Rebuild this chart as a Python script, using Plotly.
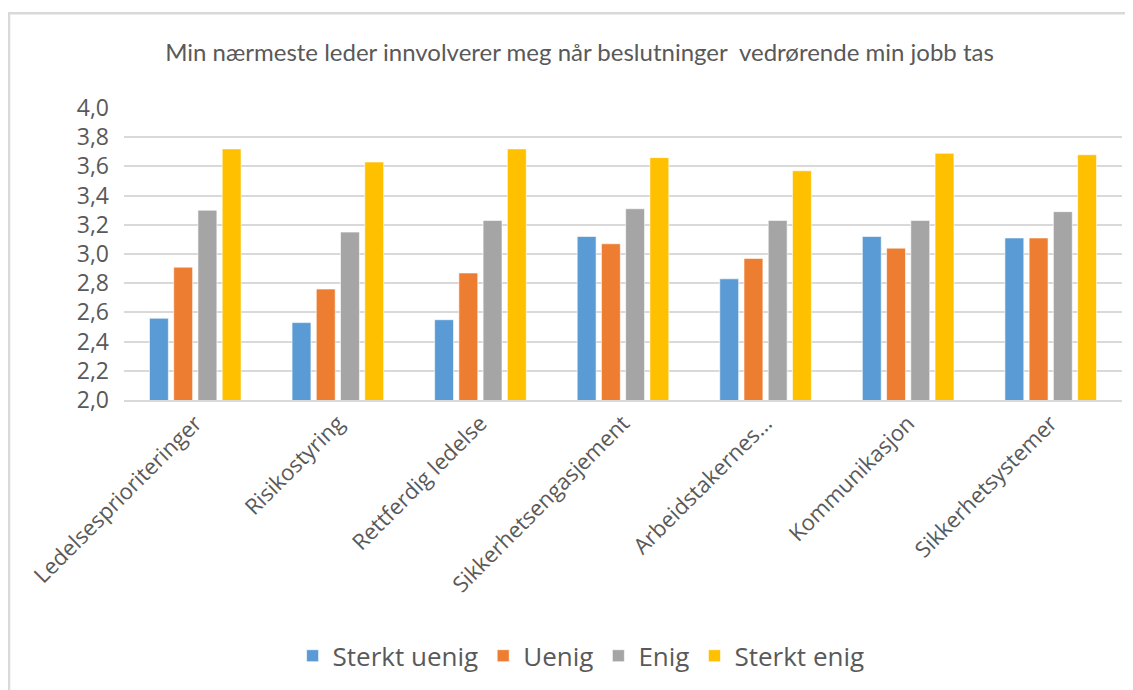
import plotly.graph_objects as go

categories = ["Ledelsesprioriteringer", "Risikostyring", "Rettferdig ledelse",
              "Sikkerhetsengasjement", "Arbeidstakernes…", "Kommunikasjon",
              "Sikkerhetsystemer"]
sterkt_uenig = [2.56, 2.53, 2.55, 3.12, 2.83, 3.12, 3.11]
uenig = [2.91, 2.76, 2.87, 3.07, 2.97, 3.04, 3.11]
enig = [3.30, 3.15, 3.23, 3.31, 3.23, 3.23, 3.29]
sterkt_enig = [3.72, 3.63, 3.72, 3.66, 3.57, 3.69, 3.68]

series = [
    ("Sterkt uenig", sterkt_uenig, "#5B9BD5"),
    ("Uenig", uenig, "#ED7D31"),
    ("Enig", enig, "#A5A5A5"),
    ("Sterkt enig", sterkt_enig, "#FFC000"),
]

fig = go.Figure()
for name, vals, color in series:
    fig.add_trace(go.Bar(
        x=categories, y=vals, name=name,
        marker=dict(color=color, line=dict(color="white", width=0.6)),
    ))

# the page has an 8px body margin, so the figure is drawn 8px smaller
fig.update_layout(
    width=1125, height=682,
    paper_bgcolor="white", plot_bgcolor="white",
    separators=", ",
    barmode="group", bargap=0.32, bargroupgap=0.22,
    margin=dict(l=116, r=11, t=100, b=284),
    title=dict(
        text="Min nærmeste leder innvolverer meg når beslutninger  vedrørende min jobb tas",
        x=0.508, xanchor="center", y=1 - 45 / 682, yanchor="middle",
        font=dict(family="Lato, sans-serif", size=24, color="#595959"),
    ),
    font=dict(family="Open Sans, sans-serif", color="#595959"),
    xaxis=dict(
        tickangle=-45, tickfont=dict(size=22, color="#595959"),
        showline=True, linecolor="#d9d9d9", linewidth=1.5, ticks="",
    ),
    yaxis=dict(
        range=[2.0, 4.0], dtick=0.2, tickformat=".1f",
        tickfont=dict(size=23, color="#595959"),
        showgrid=True, gridcolor="#d9d9d9", gridwidth=1.5,
        zeroline=False, ticks="", ticklabelstandoff=14,
    ),
    legend=dict(
        orientation="h", x=0.458, xanchor="center", y=-0.876, yanchor="middle",
        font=dict(size=26, color="#595959"), itemwidth=30,
        traceorder="normal",
    ),
    shapes=[
        dict(type="line", xref="paper", yref="paper",
             x0=-116 / 998, x1=1.03, y0=1 + 94 / 290, y1=1 + 94 / 290,
             line=dict(color="#d9d9d9", width=2.5)),
        dict(type="line", xref="paper", yref="paper",
             x0=-115 / 998, x1=-115 / 998, y0=1 + 94 / 290, y1=-1.1,
             line=dict(color="#d9d9d9", width=2.5)),
    ],
)

fig.write_html("out.html")
